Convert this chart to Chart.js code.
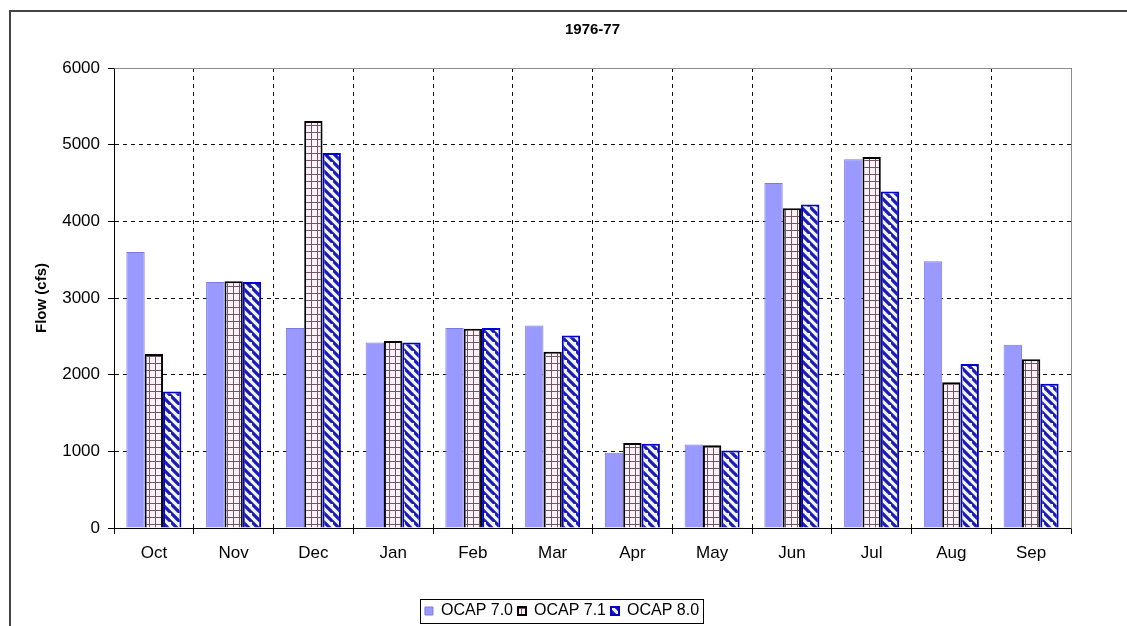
<!DOCTYPE html>
<html>
<head>
<meta charset="utf-8">
<script src="https://cdn.jsdelivr.net/npm/chart.js@4"></script>
<style>
  body { margin: 0; background: #fff; }
  #frame { position: absolute; left: 9px; top: 10px; width: 1200px; height: 700px; border: 2px solid #444; }
  #flow { position: absolute; left: 0; top: 0; }
</style>
</head>
<body>
<div id="frame"></div>
<canvas id="flow" width="1127" height="626"></canvas>
<script>
const months = ['Oct', 'Nov', 'Dec', 'Jan', 'Feb', 'Mar', 'Apr', 'May', 'Jun', 'Jul', 'Aug', 'Sep'];
const ocap70 = [3600, 3210, 2610, 2420, 2610, 2640, 980, 1090, 4500, 4810, 3480, 2390];
const ocap71 = [2270, 3220, 5310, 2440, 2600, 2300, 1110, 1080, 4170, 4840, 1900, 2200];
const ocap80 = [1780, 3210, 4890, 2420, 2610, 2510, 1100, 1010, 4220, 4390, 2140, 1880];
const yTicks = [0, 1000, 2000, 3000, 4000, 5000, 6000];

const FONT = "'Liberation Sans', Arial, sans-serif";

// small grid fill for OCAP 7.1
function gridPattern() {
    const c = document.createElement('canvas');
    c.width = 6; c.height = 7;
    const g = c.getContext('2d');
    g.fillStyle = '#fdf0f6';
    g.fillRect(0, 0, 6, 7);
    g.fillStyle = '#6e5866';
    g.fillRect(5, 0, 1, 7);
    g.fillRect(0, 6, 6, 1);
    return g.createPattern(c, 'repeat');
}

// diagonal stripes for OCAP 8.0
function stripePattern() {
    const s = 9;
    const c = document.createElement('canvas');
    c.width = s; c.height = s;
    const g = c.getContext('2d');
    g.fillStyle = '#f2f4fb';
    g.fillRect(0, 0, s, s);
    g.strokeStyle = '#1b1bb5';
    g.lineWidth = 3.2;
    g.beginPath();
    g.moveTo(-2, -2); g.lineTo(s + 2, s + 2);
    g.moveTo(-s - 2, -2); g.lineTo(2, s + 2);
    g.moveTo(s - 2, -s - 2); g.lineTo(2 * s + 2, s + 2);
    g.stroke();
    return g.createPattern(c, 'repeat');
}

// plot area border (top/right in gray) and legend box
const framePlugin = {
    id: 'framePlugin',
    afterDraw(chart) {
        const ctx = chart.ctx;
        const a = chart.chartArea;
        ctx.save();
        ctx.strokeStyle = '#8c8c8c';
        ctx.lineWidth = 1;
        ctx.setLineDash([]);
        ctx.beginPath();
        ctx.moveTo(Math.round(a.left) + 0.5, Math.round(a.top) + 0.5);
        ctx.lineTo(Math.round(a.right) + 0.5, Math.round(a.top) + 0.5);
        ctx.lineTo(Math.round(a.right) + 0.5, Math.round(a.bottom) + 0.5);
        ctx.stroke();

        const boxes = chart.legend.legendHitBoxes;
        if (boxes && boxes.length) {
            const l = Math.min(...boxes.map(b => b.left)) - 5;
            const r = Math.max(...boxes.map(b => b.left + b.width)) + 4;
            const t = boxes[0].top - 4;
            const h = boxes[0].height + 8;
            ctx.strokeStyle = '#000';
            ctx.lineWidth = 1;
            ctx.strokeRect(Math.round(l) + 0.5, Math.round(t) + 0.5, Math.round(r - l), Math.round(h));
        }
        ctx.restore();
    }
};

const ctx = document.getElementById('flow').getContext('2d');

const chart = new Chart(ctx, {
    type: 'bar',
    data: {
        labels: months,
        datasets: [
            {
                label: 'OCAP 7.0',
                data: ocap70,
                backgroundColor: '#9999ff',
                borderColor: '#7a7ae6',
                borderWidth: 1
            },
            {
                label: 'OCAP 7.1',
                data: ocap71,
                backgroundColor: gridPattern(),
                borderColor: '#000',
                borderWidth: 2
            },
            {
                label: 'OCAP 8.0',
                data: ocap80,
                backgroundColor: stripePattern(),
                borderColor: '#0000cc',
                borderWidth: 2
            }
        ]
    },
    options: {
        responsive: false,
        animation: false,
        devicePixelRatio: 1,
        categoryPercentage: 0.69,
        barPercentage: 1,
        layout: { padding: { left: 53, right: 56, top: 0, bottom: -3 } },
        plugins: {
            title: {
                display: true,
                fullSize: false,
                text: '1976-77',
                color: '#000',
                font: { family: FONT, size: 15, weight: 'bold' },
                padding: { top: 21, bottom: 29 }
            },
            legend: {
                position: 'bottom',
                labels: {
                    color: '#000',
                    font: { family: FONT, size: 16 },
                    boxWidth: 8,
                    boxHeight: 8,
                    padding: 5
                }
            },
            tooltip: { enabled: false }
        },
        scales: {
            x: {
                grid: {
                    color: '#111',
                    offset: true,
                    tickLength: 6,
                    tickColor: '#000',
                    tickBorderDash: []
                },
                border: { display: true, color: '#000', width: 1, dash: [4, 4] },
                ticks: {
                    color: '#000',
                    font: { family: FONT, size: 17 },
                    padding: 9,
                    maxRotation: 0
                },
                afterFit(scale) { scale.height = 70; }
            },
            y: {
                min: 0,
                max: 6000,
                afterBuildTicks(scale) { scale.ticks = yTicks.map(v => ({ value: v })); },
                grid: {
                    color: '#111',
                    tickLength: 6,
                    tickColor: '#000',
                    tickBorderDash: []
                },
                border: { display: true, color: '#000', width: 1, dash: [4, 4] },
                ticks: {
                    color: '#000',
                    font: { family: FONT, size: 17 },
                    padding: 8,
                    callback: (v) => String(v)
                },
                title: {
                    display: true,
                    text: 'Flow (cfs)',
                    color: '#000',
                    font: { family: FONT, size: 15, weight: 'bold' },
                    padding: { top: -20, bottom: 0 }
                },
                afterFit(scale) { scale.width = 61; }
            }
        }
    },
    plugins: [framePlugin]
});
</script>
</body>
</html>
